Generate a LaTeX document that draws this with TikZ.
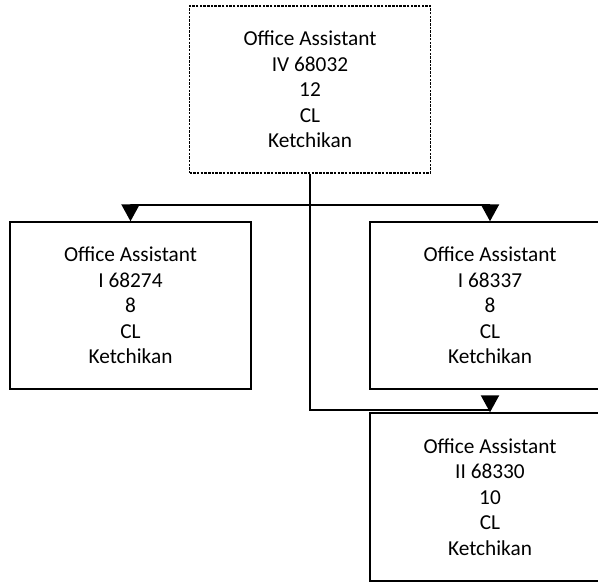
\documentclass[tikz,border=0pt]{standalone}
\usepackage{fontspec}
\setmainfont{Carlito}
\usetikzlibrary{arrows.meta}
\tikzset{
  box/.style={draw, line width=1.4pt, minimum width=241pt, minimum height=167pt, inner sep=0pt, align=center, font=\fontsize{21.3}{25.6}\selectfont},
  dotbox/.style={box, dash pattern=on 2.5pt off 1.2pt},
  conn/.style={line width=2.2pt},
  arr/.style={conn, -{Triangle[width=18pt,length=17pt]}}
}
\begin{document}
\begin{tikzpicture}[x=1pt,y=-1pt]
\useasboundingbox (0,0) rectangle (598,582);
\clip (0,0) rectangle (598,582);
\node[dotbox] (top) at (310,89.5) {Office Assistant\\IV 68032\\12\\CL\\Ketchikan};
\node[box] (left) at (130.5,305.5) {Office Assistant\\I 68274\\8\\CL\\Ketchikan};
\node[box, minimum width=240pt] (right) at (490,305.5) {Office Assistant\\I 68337\\8\\CL\\Ketchikan};
\node[box, minimum width=240pt, minimum height=168pt] (bottom) at (490,497) {Office Assistant\\II 68330\\10\\CL\\Ketchikan};
\coordinate (j1) at (310,205);
\coordinate (j2) at (490,410);
\draw[conn] (top.south) |- (j2);
\draw[arr] (j2) -- (bottom.north);
\draw[arr] (j1) -| (left.north);
\draw[arr] (j1) -| (right.north);
\end{tikzpicture}
\end{document}
